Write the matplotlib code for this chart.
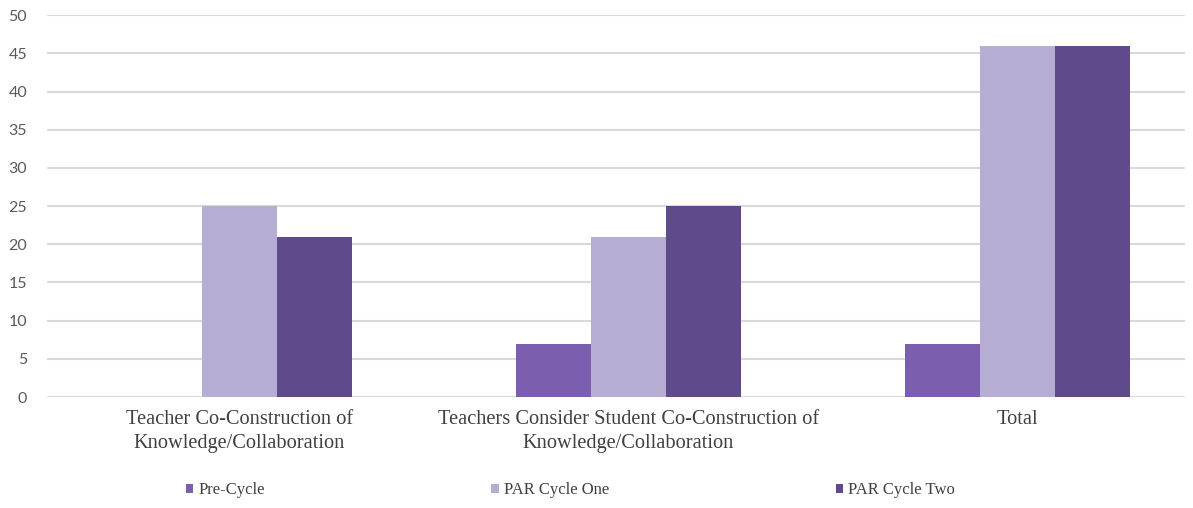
import numpy as np
import matplotlib
matplotlib.use("Agg")
import matplotlib.pyplot as plt

categories = ["Teacher Co-Construction of\nKnowledge/Collaboration",
              "Teachers Consider Student Co-Construction of\nKnowledge/Collaboration",
              "Total"]
series_names = ["Pre-Cycle", "PAR Cycle One", "PAR Cycle Two"]
pre_cycle = [0, 7, 7]
par_cycle_one = [25, 21, 46]
par_cycle_two = [21, 25, 46]
colors = ["#7B5EAD", "#B5ADD2", "#5F4B8B"]

fig = plt.figure(figsize=(11.93, 5.08), dpi=100)
ax = fig.add_axes([0.039, 0.2185, 0.954, 0.7515])

x = np.arange(len(categories))
width = 0.193
for i, (vals, name) in enumerate(zip([pre_cycle, par_cycle_one, par_cycle_two], series_names)):
    ax.bar(x + (i - 1) * width, vals, width, color=colors[i], label=name, zorder=3)

ax.set_xlim(-0.496, 2.43)
ax.set_ylim(0, 50)
ax.set_yticks(range(0, 51, 5))
ax.grid(axis="y", color="#d9d9d9", linewidth=1.5, zorder=0)
for s in ax.spines.values():
    s.set_visible(False)
ax.tick_params(axis="both", length=0)
ax.tick_params(axis="y", pad=14, labelsize=11.5, labelcolor="#595959")
for lbl in ax.get_yticklabels():
    lbl.set_family("Lato")
ax.set_xticks(x)
ax.set_xticklabels(categories, family="Liberation Serif", fontsize=14.7,
                   color="#404040", linespacing=1.38)
ax.tick_params(axis="x", pad=9)

fig.legend(loc="center", bbox_to_anchor=(0.478, 0.035), ncol=3, frameon=False,
           prop={"family": "Liberation Serif", "size": 12}, handlelength=0.45,
           handleheight=0.45, handletextpad=0.3, columnspacing=13.6,
           labelcolor="#404040")

fig.savefig("out.png", dpi=100)
